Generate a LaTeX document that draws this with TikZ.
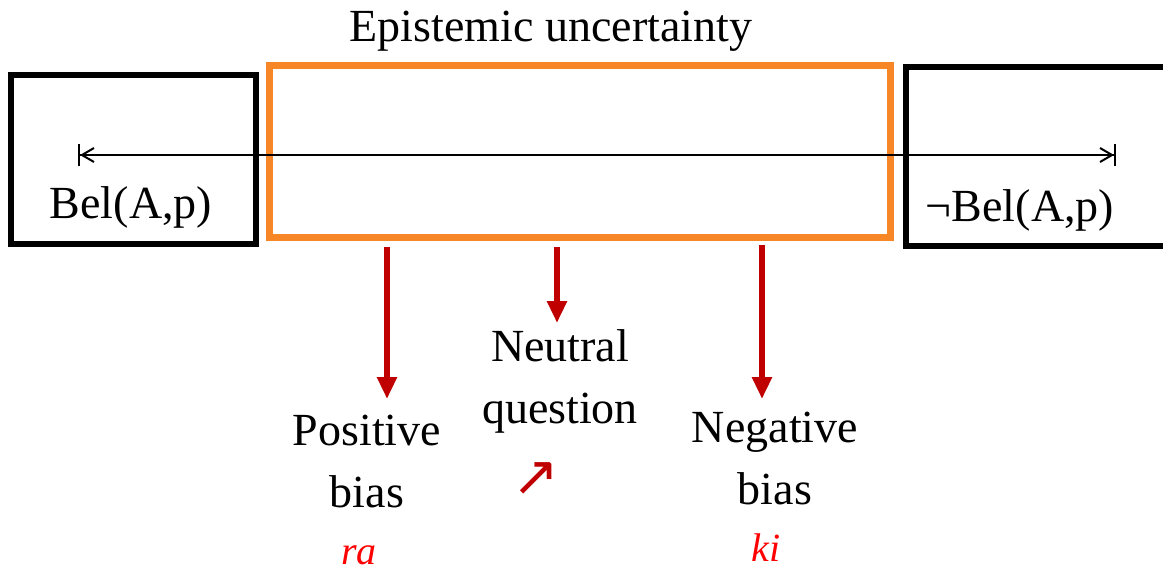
\documentclass[tikz,border=0pt]{standalone}
\usepackage{fontspec}
\setmainfont{Liberation Serif}
\newfontfamily\symfont{DejaVu Sans}
\usetikzlibrary{arrows.meta}
\definecolor{orangebox}{RGB}{247,134,38}
\definecolor{darkred}{RGB}{192,0,0}
\definecolor{brightred}{RGB}{255,0,0}
\tikzset{
  blackbox/.style={draw=black, line width=6pt},
  orbox/.style={draw=orangebox, line width=7pt},
  lbl/.style={font=\fontsize{46}{62}\selectfont, align=center, inner sep=0pt},
  redarrow/.style={draw=darkred, line width=6.5pt, -{Triangle[length=22pt,width=19pt]}},
  redtxt/.style={font=\fontsize{40}{48}\selectfont\itshape, text=brightred, inner sep=0pt}
}
\begin{document}
\begin{tikzpicture}[x=1pt,y=-1pt]
\useasboundingbox (0,0) rectangle (1163,571);
% boxes
\draw[blackbox] (1170,67) -- (905.5,67) -- (905.5,246) -- (1170,246);
\draw[blackbox] (11,75) rectangle (256,244);
\draw[orbox] (269.5,65.5) rectangle (890,237);
% horizontal double arrow
\coordinate (L) at (78,155);
\coordinate (R) at (1116,155);
\draw[line width=2pt, {Bar[width=22pt]Straight Barb[length=12pt,width=14pt]}-{Straight Barb[length=12pt,width=14pt]Bar[width=22pt]}] (L) -- (R);
% texts
\node[lbl] (title) at (551,31) {Epistemic uncertainty};
\node[lbl] (bel) at (131,207) {Bel(A,p)};
\node[lbl] (nbel) at (1020,210) {¬Bel(A,p)};
\node[lbl] (pos) at (367,461) {Positive\\bias};
\node[lbl] (neu) at (560,381) {Neutral\\question};
\node[lbl] (neg) at (775,458) {Negative\\bias};
\node[inner sep=0pt, text=darkred, font=\symfont\fontsize{56}{60}\selectfont] (up) at (536,479) {↗};
\node[redtxt] (ra) at (359,555) {ra};
\node[redtxt] (ki) at (766,548) {ki};
% red arrows
\coordinate (a1) at (387,247);
\coordinate (b1) at (387,399);
\coordinate (a2) at (557,247);
\coordinate (b2) at (557,323);
\coordinate (a3) at (762,245);
\coordinate (b3) at (762,399);
\draw[redarrow] (a1) -- (b1);
\draw[redarrow] (a2) -- (b2);
\draw[redarrow] (a3) -- (b3);
\end{tikzpicture}
\end{document}
